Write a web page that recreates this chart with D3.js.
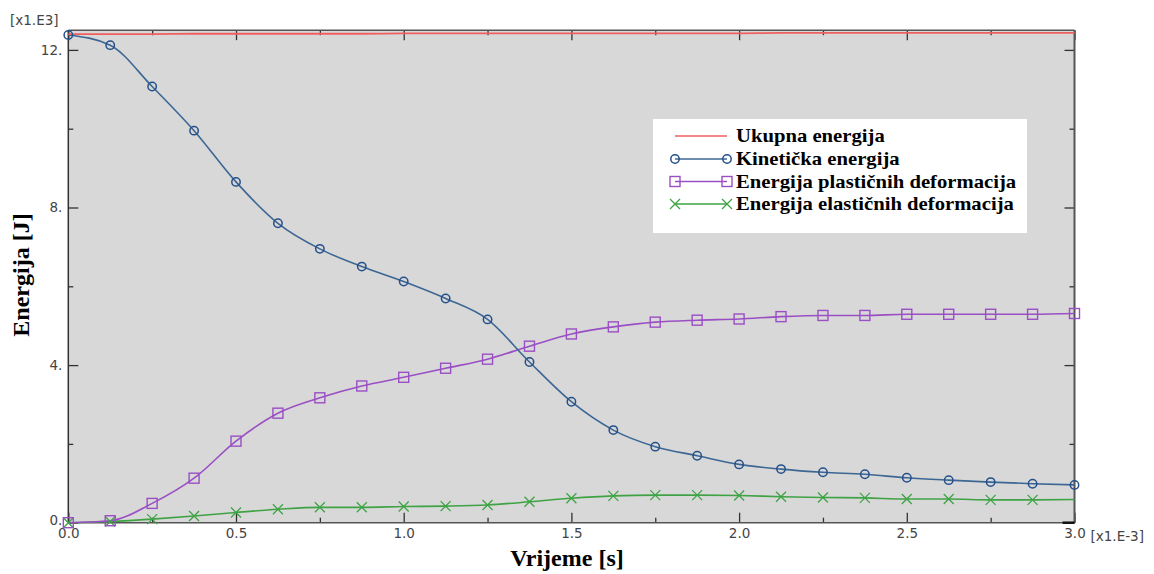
<!DOCTYPE html>
<html>
<head>
<meta charset="utf-8">
<script src="https://cdn.jsdelivr.net/npm/d3@7/dist/d3.min.js"></script>
<style>
  html, body { margin: 0; padding: 0; background: #ffffff; }
  svg { display: block; }
</style>
</head>
<body>
<svg id="chart" width="1154" height="574"></svg>
<script>
// ---- Data (time ×1e-3 s, energy ×1e3 J) ----
const times = [0, 0.125, 0.25, 0.375, 0.5, 0.625, 0.75, 0.875, 1.0, 1.125, 1.25, 1.375, 1.5,
               1.625, 1.75, 1.875, 2.0, 2.125, 2.25, 2.375, 2.5, 2.625, 2.75, 2.875, 3.0];
const totalEnergy = [12.40, 12.40, 12.40, 12.41, 12.41, 12.41, 12.41, 12.41, 12.42, 12.42, 12.42, 12.42, 12.42,
                     12.42, 12.42, 12.42, 12.42, 12.43, 12.43, 12.43, 12.43, 12.43, 12.43, 12.43, 12.43];
const kineticEnergy = [12.38, 12.12, 11.07, 9.95, 8.65, 7.60, 6.95, 6.50, 6.12, 5.69, 5.16, 4.08, 3.07,
                       2.35, 1.93, 1.70, 1.48, 1.36, 1.28, 1.23, 1.14, 1.08, 1.03, 0.99, 0.96];
const plasticEnergy = [0.00, 0.05, 0.49, 1.13, 2.07, 2.78, 3.17, 3.47, 3.69, 3.92, 4.15, 4.48, 4.79,
                       4.97, 5.09, 5.14, 5.17, 5.23, 5.26, 5.26, 5.29, 5.29, 5.29, 5.29, 5.31];
const elasticEnergy = [0.00, 0.03, 0.09, 0.17, 0.26, 0.34, 0.39, 0.39, 0.41, 0.42, 0.45, 0.53, 0.62,
                       0.68, 0.70, 0.70, 0.69, 0.66, 0.64, 0.63, 0.60, 0.60, 0.58, 0.58, 0.59];
const seriesNames = ["Ukupna energija", "Kinetička energija", "Energija plastičnih deformacija", "Energija elastičnih deformacija"];
const xTickValues = [0, 0.5, 1.0, 1.5, 2.0, 2.5, 3.0];
const xTickLabels = ["0.0", "0.5", "1.0", "1.5", "2.0", "2.5", "3.0"];
const yTickValues = [0, 4, 8, 12];
const yTickLabels = ["0.", "4.", "8.", "12."];
const xMinorTicks = [0.25, 0.75, 1.25, 1.75, 2.25, 2.75];
const yMinorTicks = [2, 6, 10];

// ---- Layout ----
const svg = d3.select("#chart");
const L = 68.3, R = 1074.5, T = 30.2, B = 522.7;
const x = d3.scaleLinear().domain([0, 3.0]).range([L, R]);
const y = d3.scaleLinear().domain([0, 12.5]).range([B, T]);

const colors = {
  total: "#ef5f60",
  kinetic: "#3c6794",
  kineticMark: "#24508a",
  plastic: "#9a4fc4",
  elastic: "#3fa345"
};

svg.append("rect").attr("x", L).attr("y", T).attr("width", R - L).attr("height", B - T)
  .attr("fill", "#d8d8d8");

// ---- Axes (ticks inward) ----
const tickCol = "#333";
const axB = svg.append("g").attr("transform", `translate(0,${B})`)
  .call(d3.axisTop(x).tickValues(xTickValues).tickSize(10).tickFormat(""));
const axBm = svg.append("g").attr("transform", `translate(0,${B})`)
  .call(d3.axisTop(x).tickValues(xMinorTicks).tickSize(5).tickFormat(""));
const axT = svg.append("g").attr("transform", `translate(0,${T})`)
  .call(d3.axisBottom(x).tickValues(xTickValues).tickSize(10).tickFormat(""));
const axTm = svg.append("g").attr("transform", `translate(0,${T})`)
  .call(d3.axisBottom(x).tickValues(xMinorTicks).tickSize(5).tickFormat(""));
const axL = svg.append("g").attr("transform", `translate(${L},0)`)
  .call(d3.axisRight(y).tickValues(yTickValues).tickSize(10).tickFormat(""));
const axLm = svg.append("g").attr("transform", `translate(${L},0)`)
  .call(d3.axisRight(y).tickValues(yMinorTicks).tickSize(5).tickFormat(""));
const axR = svg.append("g").attr("transform", `translate(${R},0)`)
  .call(d3.axisLeft(y).tickValues(yTickValues).tickSize(10).tickFormat(""));
const axRm = svg.append("g").attr("transform", `translate(${R},0)`)
  .call(d3.axisLeft(y).tickValues(yMinorTicks).tickSize(5).tickFormat(""));
[axB, axBm, axT, axTm, axL, axLm, axR, axRm].forEach(g => {
  g.select(".domain").remove();
  g.selectAll(".tick line").attr("stroke", tickCol).attr("stroke-width", 1.3);
});

const axBl = svg.append("g").attr("transform", `translate(0,${B})`)
  .call(d3.axisBottom(x).tickValues(xTickValues).tickSize(0).tickPadding(6)
    .tickFormat((d, i) => xTickLabels[i]));
axBl.select(".domain").remove();
axBl.selectAll("text").attr("font-family", "DejaVu Sans, Verdana, sans-serif")
  .attr("font-size", 13.5).attr("fill", "#444");

const axLl = svg.append("g").attr("transform", `translate(${L},0)`)
  .call(d3.axisLeft(y).tickValues(yTickValues).tickSize(0).tickPadding(6)
    .tickFormat((d, i) => yTickLabels[i]));
axLl.select(".domain").remove();
axLl.selectAll("text").attr("font-family", "DejaVu Sans, Verdana, sans-serif")
  .attr("font-size", 13.5).attr("fill", "#444")
  .attr("dy", d => d === 0 ? "0.1em" : "0.32em");

svg.append("text").attr("x", 10).attr("y", 25)
  .attr("font-family", "DejaVu Sans, Verdana, sans-serif").attr("font-size", 13.5)
  .attr("fill", "#444").text("[x1.E3]");
svg.append("text").attr("x", x(3.0) + 16).attr("y", B + 18)
  .attr("font-family", "DejaVu Sans, Verdana, sans-serif").attr("font-size", 13.5)
  .attr("fill", "#444").text("[x1.E-3]");

// frame
svg.append("line").attr("x1", L).attr("x2", R).attr("y1", T).attr("y2", T)
  .attr("stroke", "#555").attr("stroke-width", 1.5);
svg.append("line").attr("x1", L).attr("x2", R).attr("y1", B).attr("y2", B)
  .attr("stroke", "#555").attr("stroke-width", 1.5);
svg.append("line").attr("x1", L).attr("x2", L).attr("y1", T).attr("y2", B)
  .attr("stroke", "#333").attr("stroke-width", 1.5);
svg.append("line").attr("x1", R).attr("x2", R).attr("y1", T).attr("y2", B)
  .attr("stroke", "#555").attr("stroke-width", 2);
svg.append("line").attr("x1", x(3.0) - 12).attr("x2", R).attr("y1", B).attr("y2", B)
  .attr("stroke", "#111").attr("stroke-width", 2.5);

// ---- Series ----
function seriesData(vals) { return times.map((t, i) => ({ t, v: vals[i] })); }
const line = d3.line().x(d => x(d.t)).y(d => y(d.v)).curve(d3.curveMonotoneX);

const gData = svg.append("g");
function drawLine(vals, col, w) {
  gData.append("path").datum(seriesData(vals)).attr("d", line)
    .attr("fill", "none").attr("stroke", col).attr("stroke-width", w);
}
drawLine(elasticEnergy, colors.elastic, 1.6);
drawLine(plasticEnergy, colors.plastic, 1.6);
drawLine(kineticEnergy, colors.kinetic, 1.6);
drawLine(totalEnergy, colors.total, 1.8);

function circleMark(g, cx, cy) {
  g.append("circle").attr("cx", cx).attr("cy", cy).attr("r", 4.2)
    .attr("fill", "none").attr("stroke", colors.kineticMark).attr("stroke-width", 1.5);
}
function squareMark(g, cx, cy) {
  g.append("rect").attr("x", cx - 5).attr("y", cy - 5).attr("width", 10).attr("height", 10)
    .attr("fill", "none").attr("stroke", colors.plastic).attr("stroke-width", 1.4);
}
function crossMark(g, cx, cy) {
  g.append("path").attr("d", `M${cx-5},${cy-5}L${cx+5},${cy+5}M${cx-5},${cy+5}L${cx+5},${cy-5}`)
    .attr("fill", "none").attr("stroke", colors.elastic).attr("stroke-width", 1.3);
}
seriesData(elasticEnergy).forEach((d, i, arr) => { if (i < arr.length - 1) crossMark(gData, x(d.t), y(d.v)); });
seriesData(plasticEnergy).forEach(d => squareMark(gData, x(d.t), y(d.v)));
seriesData(kineticEnergy).forEach(d => circleMark(gData, x(d.t), y(d.v)));

// ---- Axis titles ----
svg.append("text").attr("x", 567).attr("y", 566).attr("text-anchor", "middle")
  .attr("font-family", "Liberation Serif, Times New Roman, serif").attr("font-weight", "bold")
  .attr("font-size", 24).attr("fill", "#000").text("Vrijeme [s]");
svg.append("text").attr("transform", "translate(29,275) rotate(-90)").attr("text-anchor", "middle")
  .attr("font-family", "Liberation Serif, Times New Roman, serif").attr("font-weight", "bold")
  .attr("font-size", 24).attr("fill", "#000").text("Energija [J]");

// ---- Legend ----
const lg = svg.append("g");
lg.append("rect").attr("x", 653).attr("y", 119).attr("width", 374).attr("height", 114)
  .attr("fill", "#ffffff");
const legendBase = [142, 165, 187.5, 210];
const legendCols = [colors.total, colors.kinetic, colors.plastic, colors.elastic];
seriesNames.forEach((name, i) => {
  const ly = legendBase[i] - 6;
  lg.append("line").attr("x1", 675).attr("x2", 727).attr("y1", ly).attr("y2", ly)
    .attr("stroke", legendCols[i]).attr("stroke-width", 1.6);
  if (i === 1) { circleMark(lg, 675, ly); circleMark(lg, 727, ly); }
  if (i === 2) { squareMark(lg, 675, ly); squareMark(lg, 727, ly); }
  if (i === 3) { crossMark(lg, 675, ly); crossMark(lg, 727, ly); }
  const t = lg.append("text").attr("x", 736).attr("y", legendBase[i])
    .attr("font-family", "Liberation Serif, Times New Roman, serif").attr("font-weight", "bold")
    .attr("font-size", 19.5).attr("fill", "#000").text(name);
  const w = t.node().getComputedTextLength();
  t.attr("textLength", w * 1.06).attr("lengthAdjust", "spacingAndGlyphs");
});
</script>
</body>
</html>
